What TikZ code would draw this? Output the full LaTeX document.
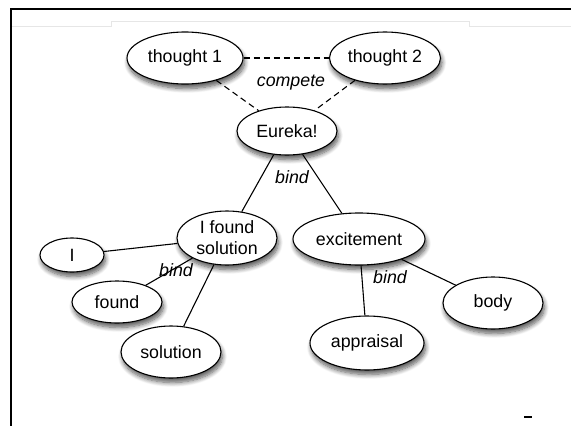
\documentclass[tikz,border=0pt]{standalone}
\usepackage{fontspec}
\setmainfont{Liberation Sans}
\usepackage{tikz}
\usetikzlibrary{shapes.geometric, shadows.blur}
\definecolor{framegray}{HTML}{E6E6E6}

\begin{document}
\begin{tikzpicture}[
  x=1pt, y=-1pt,
  idea/.style n args={2}{ellipse, draw=black, line width=1.1pt, fill=white,
    minimum width=#1pt, minimum height=#2pt, inner sep=0pt, align=center,
    font=\fontsize{17.8}{21}\selectfont,
    blur shadow={shadow xshift=1.5pt, shadow yshift=-4.5pt, shadow blur steps=8,
      shadow blur radius=4.5pt, shadow opacity=65}},
  link/.style={line width=1.1pt},
  rival/.style={line width=1.1pt, dash pattern=on 6pt off 4pt},
  tag/.style={font=\fontsize{17.8}{21}\selectfont\itshape},
]
  \useasboundingbox (0,0) rectangle (571,426);
  \draw[framegray, line width=0.8pt] (12,26) -- (111,26) -- (111,21) -- (469,21) -- (469,26) -- (571,26);
  \draw[line width=2.5pt] (11,426) -- (11,9) -- (571,9);

  \node[idea={116}{52}] (thoughtA) at (185,58) {thought 1};
  \node[idea={111}{52}] (thoughtB) at (385,58) {thought 2};
  \node[idea={100}{48}] (eureka) at (287,131) {Eureka!};
  \node[idea={100}{54}] (ifs) at (227,238) {I found\\solution};
  \node[idea={132}{52}] (excite) at (359,239) {excitement};
  \node[idea={64}{34}] (wordI) at (72,255) {I};
  \node[idea={90}{42}] (found) at (117,302) {found};
  \node[idea={100}{52}] (solution) at (171,352) {solution};
  \node[idea={100}{52}] (body) at (493,303) {body};
  \node[idea={114}{54}] (appraisal) at (367,343) {appraisal};

  \draw[rival] (thoughtA) -- (thoughtB);
  \draw[rival] (thoughtA) -- (eureka);
  \draw[rival] (thoughtB) -- (eureka);
  \draw[link] (eureka) -- (ifs);
  \draw[link] (eureka) -- (excite);
  \draw[link] (ifs) -- (wordI);
  \draw[link] (ifs) -- (found);
  \draw[link] (ifs) -- (solution);
  \draw[link] (excite) -- (appraisal);
  \draw[link] (excite) -- (body);

  \node[tag] (compete) at (291,83) {compete};
  \node[tag] (bindTop) at (292,177) {bind};
  \node[tag] (bindLeft) at (176,270) {bind};
  \node[tag] (bindRight) at (390,277) {bind};

  \coordinate (markA) at (524,417);
  \coordinate (markB) at (532,417);
  \draw[line width=1.8pt] (markA) -- (markB);
\end{tikzpicture}
\end{document}
